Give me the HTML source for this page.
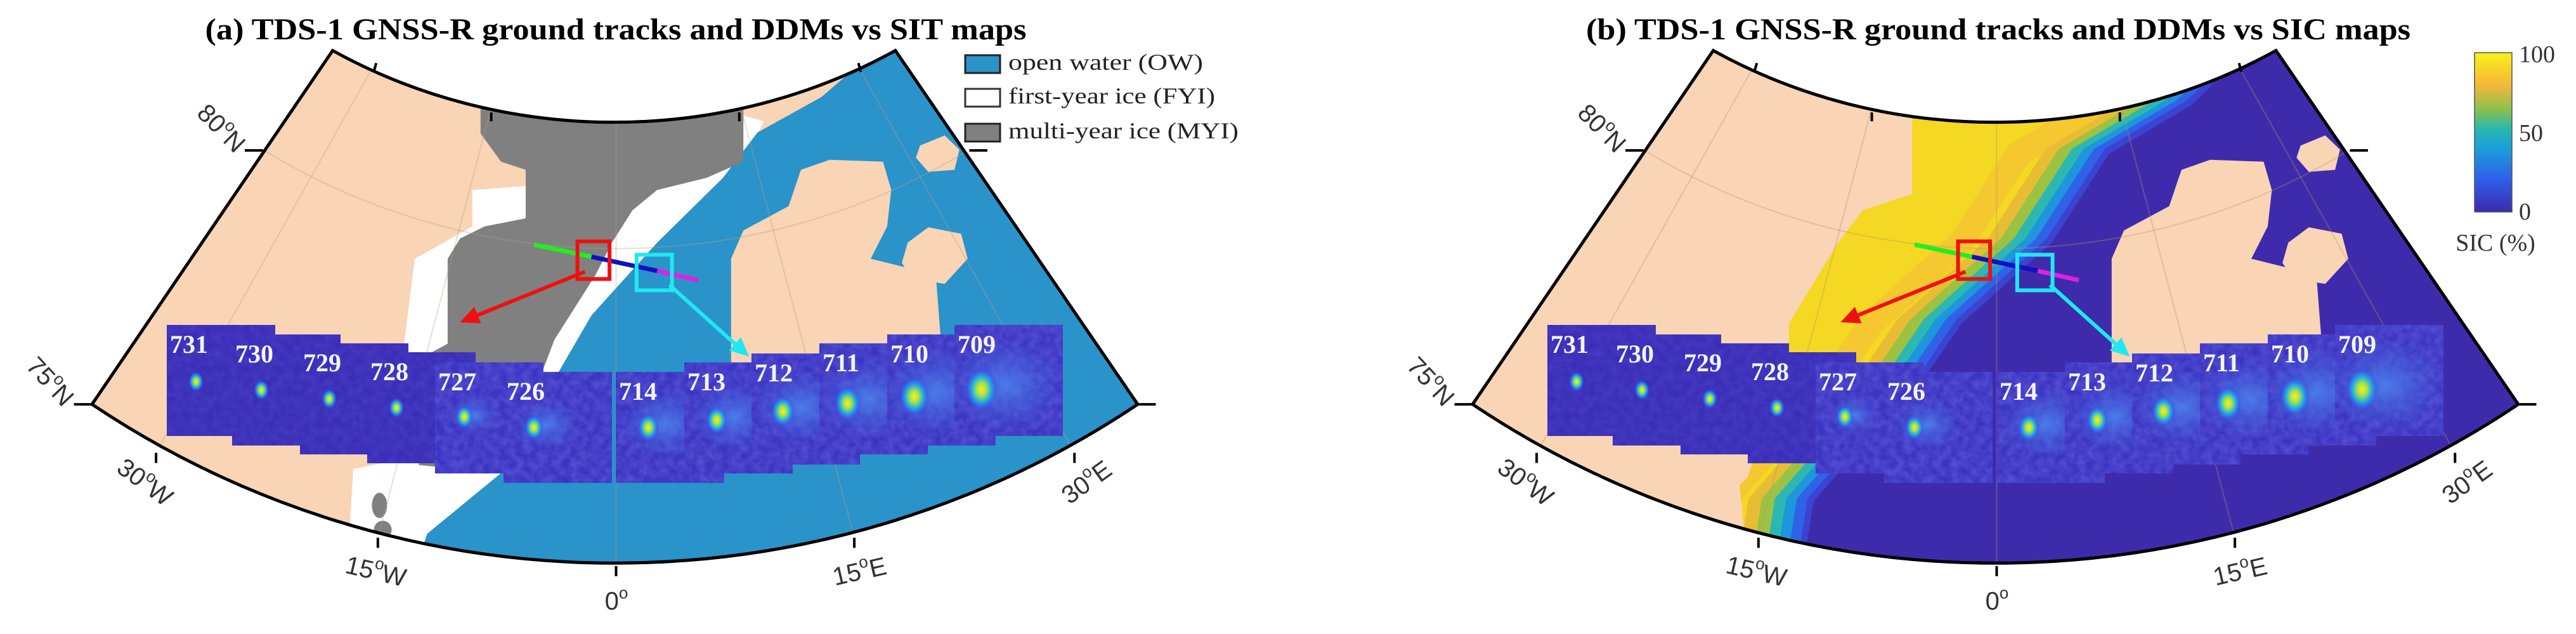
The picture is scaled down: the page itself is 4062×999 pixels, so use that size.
<!DOCTYPE html>
<html><head><meta charset="utf-8">
<style>
html,body{margin:0;padding:0;background:#fff;}
svg{display:block;}
</style></head>
<body>
<svg id="fig" xmlns="http://www.w3.org/2000/svg" width="4062" height="999" viewBox="0 0 4062 999">
<defs>
<radialGradient id="spot">
<stop offset="0" stop-color="#f4f21c"/>
<stop offset="0.3" stop-color="#a8e048"/>
<stop offset="0.55" stop-color="#28b8d8"/>
<stop offset="0.8" stop-color="#3070ee" stop-opacity="0.7"/>
<stop offset="1" stop-color="#3a40d8" stop-opacity="0"/>
</radialGradient>
<radialGradient id="halo">
<stop offset="0" stop-color="#4c8cf0" stop-opacity="0.8"/>
<stop offset="1" stop-color="#4060e0" stop-opacity="0"/>
</radialGradient>
<linearGradient id="parula" x1="0" y1="1" x2="0" y2="0">
<stop offset="0" stop-color="#3b2aaf"/>
<stop offset="0.2" stop-color="#2f5ee8"/>
<stop offset="0.4" stop-color="#1aa0d8"/>
<stop offset="0.52" stop-color="#28b8b0"/>
<stop offset="0.65" stop-color="#90c048"/>
<stop offset="0.8" stop-color="#f5b83a"/>
<stop offset="1" stop-color="#f8f218"/>
</linearGradient>
<filter id="noise" x="0" y="0" width="1" height="1">
<feTurbulence type="fractalNoise" baseFrequency="0.08" numOctaves="2" seed="3"/>
<feColorMatrix type="matrix" values="0 0 0 0 0.3  0 0 0 0 0.35  0 0 0 0 0.95  0 0 0 0.5 -0.12"/>
<feComposite in2="SourceGraphic" operator="in"/>
</filter>
</defs>
<g id="panelA"></g>
<g id="panelB" transform="translate(2177,0)"></g>
<text x="971" y="62" text-anchor="middle" font-family="Liberation Serif, serif" font-weight="bold" font-size="48" textLength="1295" lengthAdjust="spacingAndGlyphs">(a) TDS-1 GNSS-R ground tracks and DDMs vs SIT maps</text>
<text x="3151" y="62" text-anchor="middle" font-family="Liberation Serif, serif" font-weight="bold" font-size="48" textLength="1300" lengthAdjust="spacingAndGlyphs">(b) TDS-1 GNSS-R ground tracks and DDMs vs SIC maps</text>
<g font-family="Liberation Serif, serif" font-size="36" fill="#222">
<rect x="1522" y="87" width="55" height="28" fill="#2a93c9" stroke="#222" stroke-width="3"/>
<text x="1590" y="110" textLength="307" lengthAdjust="spacingAndGlyphs">open water (OW)</text>
<rect x="1522" y="140" width="55" height="28" fill="#fff" stroke="#333" stroke-width="3"/>
<text x="1590" y="163" textLength="326" lengthAdjust="spacingAndGlyphs">first-year ice (FYI)</text>
<rect x="1522" y="195" width="55" height="28" fill="#808080" stroke="#222" stroke-width="3"/>
<text x="1590" y="218" textLength="363" lengthAdjust="spacingAndGlyphs">multi-year ice (MYI)</text>
</g>
<g font-family="Liberation Serif, serif" font-size="38" fill="#333">
<rect x="3902" y="83" width="59" height="251" fill="url(#parula)" stroke="#555" stroke-width="1.5"/>
<text x="3972" y="98">100</text>
<text x="3972" y="222">50</text>
<text x="3972" y="346">0</text>
<text x="3935" y="395" text-anchor="middle">SIC (%)</text>
</g>
</svg>
<script>
// DDM tile data
const tileIds = ['731','730','729','728','727','726','714','713','712','711','710','709'];
const tileX = [263,366,473,579,686,794,971,1079,1185,1292,1399,1505];
const tileY = [512,527,541,555,571,586,586,571,557,541,527,512];
const spotRX = [0.27,0.27,0.27,0.27,0.27,0.28,0.30,0.30,0.29,0.26,0.25,0.25];
const spotRY = [0.51,0.50,0.50,0.50,0.49,0.50,0.50,0.52,0.52,0.54,0.56,0.58];
const spotSize = [12,12,12,12,14,15,17,17,19,21,24,26];
const haloSize = [0,0,0,0,30,40,55,55,60,65,70,75];

const NS='http://www.w3.org/2000/svg';
const SX=1.2953, SY=0.6371;
function P(x,y){return [x*SX,y*SY];}
function pts(arr){let s=[];for(let i=0;i<arr.length;i+=2){const p=P(arr[i],arr[i+1]);s.push(p[0].toFixed(1)+','+p[1].toFixed(1));}return s.join(' ');}
function mk(tag,attrs,parent){const e=document.createElementNS(NS,tag);for(const k in attrs)e.setAttribute(k,attrs[k]);parent.appendChild(e);return e;}

const TL=P(405,125),TR=P(1090,125),BL=P(112,1000),BR=P(1385,1000);
const rxT=657*SX, ryT=1210*SY, rxB=1139*SX, ryB=2300*SY;
const fanD='M'+TL[0]+','+TL[1]+' A'+rxT+' '+ryT+' 0 0 0 '+TR[0]+','+TR[1]+' L'+BR[0]+','+BR[1]+' A'+rxB+' '+ryB+' 0 0 1 '+BL[0]+','+BL[1]+' Z';

const blueA=[1080,100,1500,100,1500,1500,490,1500,520,1320,610,1170,680,920,720,780,800,600,880,440,920,330,1000,240];
const whiteA=[860,260,930,300,925,320,880,440,800,600,720,780,680,920,610,1170,520,1320,490,1500,420,1500,430,1160,480,1140,490,880,505,640,575,560,575,470,640,460,660,260];
const grayA=[585,260,905,260,905,400,860,440,800,470,770,520,745,600,725,680,700,760,675,840,660,920,630,1000,600,1120,560,1160,510,1150,500,900,545,850,545,640,560,590,590,560,640,540,640,420,610,400,585,330];
const sval=[890,900,890,640,905,570,960,510,975,420,1010,395,1075,400,1085,470,1080,560,1060,640,1100,660,1140,700,1145,830,1120,900];
const isl1=[1120,360,1150,335,1168,370,1162,420,1130,425,1115,390];
const isl2=[1105,600,1130,562,1170,578,1178,640,1150,702,1110,690,1098,650];
const edgeB=[1067,100,987,260,887,380,817,600,707,800,667,920,587,1100,527,1240,507,1500];
const landBEdge=[647,260,647,480,587,520,557,600,497,800,497,870,447,1180,437,1200,452,1500];

function edgeShift(arr,dx){const o=[];for(let i=0;i<arr.length;i+=2){o.push(arr[i]+dx,arr[i+1]);}return o;}
function revPairs(arr){const o=[];for(let i=arr.length-2;i>=0;i-=2){o.push(arr[i],arr[i+1]);}return o;}

function buildPanel(g,pid,mode){
  const cp=mk('clipPath',{id:'clip'+pid},g);
  mk('path',{d:fanD},cp);
  const m=mk('g',{'clip-path':'url(#clip'+pid+')'},g);
  
  
  mk('path',{d:fanD,fill:'#f9d4b5'},m);
  if(mode==='a'){
    const b=mk('polygon',{points:pts(blueA),fill:'#2a93c9'},m);
    
    
    const w=mk('polygon',{points:pts(whiteA),fill:'#ffffff'},m);
    
    
    const gr=mk('polygon',{points:pts(grayA),fill:'#808080'},m);
    
    
    mk('ellipse',{cx:462*SX,cy:1250*SY,rx:12,ry:20,fill:'#808080'},m);
    mk('ellipse',{cx:466*SX,cy:1310*SY,rx:14,ry:14,fill:'#808080'},m);
  } else {
    const yl=landBEdge.concat(revPairs(edgeB));
    const y=mk('polygon',{points:pts(yl),fill:'#f4d824'},m);
    
    
    mk('polyline',{points:pts(edgeShift(edgeB,-110)),fill:'none',stroke:'#f3c233','stroke-width':40,opacity:0.7},m);
    const bandCols=['#e8bd34','#9cc244','#2cb8b0','#1e96dc','#2f62e6','#3a44d0'];
    const bandDx=[-80,-64,-48,-34,-21,-8];
    for(let k=0;k<bandCols.length;k++){
      const pl=mk('polyline',{points:pts(edgeShift(edgeB,bandDx[k]+8)),fill:'none',stroke:bandCols[k],'stroke-width':20,'stroke-linejoin':'round'},m);
      
      
    }
    const ob=edgeB.concat([1500,1500,1500,100]);
    const o=mk('polygon',{points:pts(ob),fill:'#3e2bab'},m);
    
    
    mk('polygon',{points:pts([0,0,647,0].concat(landBEdge,[0,1500])),fill:'#f9d4b5'},m);
  }
  for(const s of [sval,isl1,isl2]){
    const l=mk('polygon',{points:pts(s),fill:'#f9d4b5'},m);
    
    
  }
  const gcol=mode==='a'?'rgba(180,160,140,0.35)':'rgba(180,150,100,0.35)';
  const c=P(750,-905);
  const p80L=P(320,370),p80R=P(1180,370);
  mk('path',{d:'M'+p80L[0]+','+p80L[1]+' A'+(790*SX)+' '+(1520*SY)+' 0 0 0 '+p80R[0]+','+p80R[1],fill:'none',stroke:gcol,'stroke-width':2},m);
  for(const bx of [[190,1120],[460,1330],[750,1400],[1040,1330],[1308,1120]]){
    const q=P(bx[0],bx[1]);
    mk('line',{x1:c[0],y1:c[1],x2:q[0],y2:q[1],stroke:gcol,'stroke-width':2},m);
  }
  const out=mk('path',{d:fanD,fill:'none',stroke:'#000','stroke-width':5},g);
  
  
  const ticks=[[190,1120,0,25],[460,1330,0,25],[750,1400,0,25],[1040,1330,0,25],[1308,1120,0,25],[455,178,3,-22],[598,300,0,-22],[900,300,0,-22],[1048,178,-3,-22],[320,372,-22,0],[112,1000,-22,0],[1180,372,22,0],[1385,1000,22,0]];
  for(const t of ticks){const a=P(t[0],t[1]),b=P(t[0]+t[2],t[1]+t[3]);
    const l=mk('line',{x1:a[0],y1:a[1],x2:b[0],y2:b[1],stroke:'#000','stroke-width':4},g);
    
    
  }
  const labs=[['80','N',347,204,45],['75','N',77,603,47],['30','W',227,762,36],['15','W',592,903,13],['0','',972,950,0],['15','E',1356,903,-13],['30','E',1715,762,-36]];
  for(const L of labs){
    const t=mk('text',{x:0,y:0,'text-anchor':'middle','dominant-baseline':'middle','font-family':'Liberation Sans, sans-serif','font-size':40,fill:'#333',transform:'translate('+L[2]+','+L[3]+') rotate('+L[4]+')'},g);
    
    
    t.appendChild(document.createTextNode(L[0]));
    const s=mk('tspan',{'font-size':26,dy:-14},t);s.textContent='o';
    if(L[1]){const s2=mk('tspan',{dy:14},t);s2.textContent=L[1];}
  }
  const segs=[[650,605,720,635,'#22ee22'],[720,635,800,670,'#1010c0'],[800,670,850,693,'#e020e0']];
  for(const s of segs){const a=P(s[0],s[1]),b=P(s[2],s[3]);
    const l=mk('line',{x1:a[0],y1:a[1],x2:b[0],y2:b[1],stroke:s[4],'stroke-width':7},g);
    
    
  }
  const r1=P(703,597),r2=P(742,690);
  const rr=mk('rect',{x:r1[0],y:r1[1],width:r2[0]-r1[0],height:r2[1]-r1[1],fill:'none',stroke:'#ee1010','stroke-width':6},g);
  
  
  const c1=P(775,630),c2=P(818,718);
  const cr=mk('rect',{x:c1[0],y:c1[1],width:c2[0]-c1[0],height:c2[1]-c1[1],fill:'none',stroke:'#20e8f0','stroke-width':6},g);
  
  
  function arrow(x1,y1,x2,y2,col,name){
    const a=P(x1,y1),b=P(x2,y2);const dx=b[0]-a[0],dy=b[1]-a[1];const L=Math.hypot(dx,dy);const ux=dx/L,uy=dy/L;
    const hl=30,hw=14;const bx=b[0]-ux*hl,by=b[1]-uy*hl;
    const l=mk('line',{x1:a[0],y1:a[1],x2:bx,y2:by,stroke:col,'stroke-width':6},g);
    
    
    const h=mk('polygon',{points:b[0]+','+b[1]+' '+(bx-uy*hw)+','+(by+ux*hw)+' '+(bx+uy*hw)+','+(by-ux*hw),fill:col},g);
    
    
  }
  arrow(712,672,560,797,'#ee1010','ice-arrow');
  arrow(815,705,912,882,'#20e8f0','water-arrow');
  for(let i=0;i<tileIds.length;i++){
    const tg=mk('g',{},g);
    
    
    const w=171,h=175,x=tileX[i],y=tileY[i];
    mk('rect',{x:x,y:y,width:w,height:h,fill:i<4?'#3a2db8':'#3b33c2'},tg);
    mk('rect',{x:x,y:y,width:w,height:h,fill:'#3b33c2',filter:'url(#noise)',opacity:i<4?0.4:0.9},tg);
    const sx=x+w*spotRX[i],sy=y+h*spotRY[i];
    if(haloSize[i]>0){const hs=haloSize[i];mk('ellipse',{cx:sx+hs*0.5,cy:sy-hs*0.1,rx:hs*1.3,ry:hs,fill:'url(#halo)'},tg);}
    mk('ellipse',{cx:sx,cy:sy,rx:spotSize[i],ry:spotSize[i]*1.3,fill:'url(#spot)'},tg);
    const t=mk('text',{x:x+5,y:y+44,'font-family':'Liberation Serif, serif','font-weight':'bold','font-size':40,fill:'#f4f4ff'},tg);
    t.textContent=tileIds[i];
  }
}
buildPanel(document.getElementById('panelA'),'A','a');
buildPanel(document.getElementById('panelB'),'B','b');
</script>
</body></html>
